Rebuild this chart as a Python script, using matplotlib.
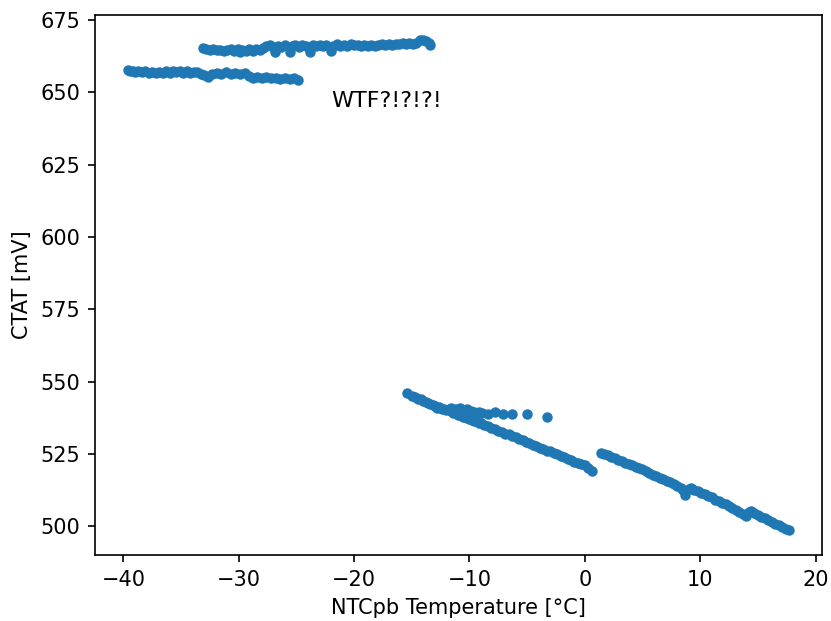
import matplotlib
matplotlib.use("Agg")
import matplotlib.pyplot as plt

# readings off the NTCpb sensor vs CTAT voltage (estimated from the plot)
# cold run, lower band (~657 mV)
cold_low_t = [-39.6, -39.4, -39.2, -39.0, -38.7, -38.4, -38.1, -37.8, -37.5, -37.2,
              -36.9, -36.6, -36.3, -36.0, -35.7, -35.4, -35.1, -34.8, -34.5, -34.2,
              -33.9, -33.6, -33.3, -33.0, -32.7, -32.3, -31.9, -31.5, -31.1, -30.7,
              -30.3, -29.9, -29.5, -29.1, -28.8, -28.4, -28.0, -27.6, -27.2, -26.8,
              -26.4, -26.0, -25.6, -25.2, -24.9]
cold_low_v = [657.9, 657.3, 657.6, 657.2, 657.5, 657.0, 657.4, 656.9, 657.2, 656.8,
              657.1, 656.9, 657.3, 656.8, 657.4, 657.0, 657.6, 656.9, 657.3, 656.7,
              657.2, 657.0, 656.5, 656.2, 655.3, 656.4, 656.9, 656.5, 657.0, 656.4,
              656.8, 656.3, 656.6, 655.6, 655.0, 655.3, 654.9, 655.2, 654.9, 655.1,
              654.8, 655.0, 654.8, 654.9, 654.4]

# cold run, upper band (~666 mV)
cold_high_t = [-33.1, -32.8, -32.5, -32.2, -31.9, -31.6, -31.3, -31.0, -30.7, -30.4,
               -30.1, -29.9, -29.7, -29.4, -29.1, -28.8, -28.5, -28.2, -27.9, -27.6,
               -27.3, -27.0, -26.9, -26.6, -26.3, -26.0, -25.6, -25.4, -25.1, -24.8,
               -24.5, -24.2, -23.8, -23.6, -23.3, -23.0, -22.7, -22.4, -22.0, -21.8,
               -21.5, -21.2, -20.9, -20.6, -20.3, -20.0, -19.7, -19.4, -19.1, -18.8,
               -18.5, -18.2, -17.9, -17.6, -17.3, -17.0, -16.7, -16.4, -16.1, -15.8,
               -15.5, -15.2, -14.9, -14.6, -14.3, -14.0, -13.8, -13.5, -13.4]
cold_high_v = [665.4, 665.0, 664.7, 664.9, 664.6, 664.8, 664.5, 664.7, 664.9, 664.4,
               665.2, 663.9, 664.8, 664.3, 664.9, 664.5, 665.0, 664.6, 665.3, 666.0,
               666.3, 665.8, 664.0, 666.2, 665.9, 666.4, 663.9, 666.1, 666.5, 665.9,
               666.3, 666.0, 664.0, 666.4, 666.0, 666.5, 666.1, 666.4, 664.2, 666.2,
               666.6, 666.1, 666.5, 666.2, 666.6, 666.3, 666.5, 666.0, 666.4, 666.2,
               666.5, 666.1, 666.4, 666.6, 666.3, 666.8, 666.5, 666.9, 666.6, 667.0,
               666.7, 667.1, 666.8, 667.2, 668.0, 668.3, 667.9, 667.2, 666.5]

# warm run, first slope
warm1_t = [-15.4, -15.0, -14.7, -14.5, -14.2, -14.0, -13.8, -13.6, -13.4, -13.2,
           -13.0, -12.8, -12.6, -12.4, -12.2, -12.0, -11.8, -11.6, -11.4, -11.2,
           -11.0, -10.8, -10.6, -10.4, -10.2, -10.0, -9.8, -9.6, -9.4, -9.2,
           -9.0, -8.7, -8.4, -8.1, -7.8, -7.5, -7.2, -6.9, -6.6, -6.3,
           -6.0, -5.7, -5.4, -5.1, -4.8, -4.5, -4.2, -3.9, -3.6, -3.3,
           -3.0, -2.7, -2.4, -2.1, -1.8, -1.5, -1.2, -0.9, -0.6, -0.3,
           0.0, 0.3, 0.6]
warm1_v = [546.0, 545.0, 544.6, 544.0, 543.8, 543.2, 543.0, 542.5, 542.3, 541.8,
           541.7, 541.0, 541.2, 540.5, 540.6, 540.0, 540.1, 539.8, 539.2, 539.0,
           538.6, 538.4, 537.9, 537.8, 537.3, 537.0, 536.8, 536.3, 536.2, 535.6,
           535.5, 534.9, 534.5, 533.8, 533.6, 532.8, 532.6, 531.9, 531.7, 531.0,
           530.7, 530.0, 529.8, 529.0, 528.7, 528.1, 527.8, 527.1, 526.8, 526.1,
           525.9, 525.2, 524.8, 524.3, 523.8, 523.3, 523.0, 522.3, 522.0, 521.4,
           521.0, 520.0, 519.2]

# stray points above the first slope
stray_t = [-11.6, -11.2, -10.8, -10.5, -10.2, -9.9, -9.6, -9.2, -8.9, -8.4,
           -7.8, -7.1, -6.3, -5.0, -3.3]
stray_v = [540.8, 540.5, 540.9, 540.2, 540.6, 539.8, 539.5, 539.3, 539.0, 538.9,
           539.6, 538.8, 538.8, 538.8, 537.9]

# warm run, second slope
warm2_t = [1.4, 1.7, 2.0, 2.3, 2.6, 2.9, 3.2, 3.5, 3.8, 4.1,
           4.4, 4.7, 5.0, 5.3, 5.6, 5.9, 6.2, 6.5, 6.8, 7.1,
           7.4, 7.7, 8.0, 8.3, 8.5, 8.7, 9.0, 9.2, 9.5, 9.8,
           10.1, 10.4, 10.7, 11.0, 11.3, 11.6, 11.9, 12.2, 12.5, 12.8,
           13.1, 13.4, 13.7, 14.0, 14.2, 14.4, 14.7, 15.0, 15.3, 15.6,
           15.9, 16.2, 16.5, 16.8, 17.1, 17.4, 17.7]
warm2_v = [525.2, 525.0, 524.6, 524.0, 523.7, 523.0, 522.6, 522.0, 521.6, 521.0,
           520.6, 520.0, 519.6, 518.9, 518.5, 517.8, 517.4, 516.7, 516.3, 515.6,
           515.1, 514.4, 514.0, 513.2, 512.4, 510.8, 512.8, 513.3, 512.6, 512.2,
           511.5, 511.0, 510.4, 509.9, 509.2, 508.7, 508.0, 507.5, 506.8, 506.3,
           505.6, 505.0, 504.2, 503.4, 505.0, 505.3, 504.5, 504.0, 503.2, 502.7,
           502.0, 501.5, 500.8, 500.3, 499.6, 499.0, 498.5]

temp = cold_low_t + cold_high_t + warm1_t + stray_t + warm2_t
ctat = cold_low_v + cold_high_v + warm1_v + stray_v + warm2_v

fig, ax = plt.subplots(figsize=(831 / 150, 621 / 150), dpi=150)
fig.subplots_adjust(left=0.1143, right=0.9892, top=0.9758, bottom=0.1063)

ax.scatter(temp, ctat, s=16)
ax.text(-22, 645, 'WTF?!?!?!', fontsize=10.7)
ax.set_xlabel('NTCpb Temperature [°C]')
ax.set_ylabel('CTAT [mV]')

plt.savefig('out.png', dpi=150)
